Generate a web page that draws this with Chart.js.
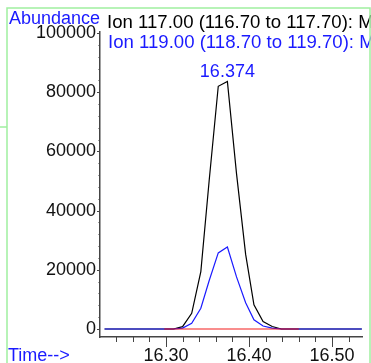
<!DOCTYPE html>
<html>
<head>
<meta charset="utf-8">
<script src="https://cdn.jsdelivr.net/npm/chart.js@4"></script>
<style>
    html, body { margin: 0; padding: 0; background: #fff; }
    #caja { position: relative; width: 371px; height: 363px; }
</style>
</head>
<body>
<div id="caja"><canvas id="grafico" width="371" height="363"></canvas></div>
<script>
// Tiempos de barrido (min)
const tiempos = [16.226, 16.234, 16.244, 16.255, 16.266, 16.277, 16.288, 16.298, 16.309, 16.320,
                 16.331, 16.342, 16.352, 16.363, 16.374, 16.385, 16.396, 16.406, 16.417, 16.428,
                 16.439, 16.450, 16.460, 16.471, 16.482, 16.493, 16.504, 16.514, 16.525, 16.536];

// Abundancias por ion
const ion117 = [0, 0, 0, 0, 0, 0, 0, 0, 0, 800,
                5300, 19400, 50000, 82000, 83600, 52500, 25200, 8200, 2500, 850,
                0, 0, 0, 0, 0, 0, 0, 0, 0, 0];
const ion119 = [0, 0, 0, 0, 0, 0, 0, 0, 0, 300,
                1900, 7000, 16300, 25700, 27700, 17600, 8900, 3100, 1000, 300,
                0, 0, 0, 0, 0, 0, 0, 0, 0, 0];
const ionRojo = [null, null, null, null, null, null, null, 0, 0, 0,
                 0, 0, 0, 0, 0, 0, 0, 0, 0, 0,
                 0, 0, 0, null, null, null, null, null, null, null];

// Textos
const titulo117 = 'Ion 117.00 (116.70 to 117.70): MSD1.D\\data.ms';
const titulo119 = 'Ion 119.00 (118.70 to 119.70): MSD1.D\\data.ms';

// Marcas de los ejes
const xTicks = [16.30, 16.40, 16.50];
const xMenores = [16.24, 16.26, 16.28, 16.30, 16.32, 16.34, 16.36, 16.38, 16.40,
                  16.42, 16.44, 16.46, 16.48, 16.50, 16.52];
const yTicks = [0, 20000, 40000, 60000, 80000, 100000];
const yMenores = [];
for (let v = 0; v <= 100000; v += 4000) yMenores.push(v);

const azul = '#1a1aff';
const fuente = '"Liberation Sans", Arial, sans-serif';

function puntos(valores) {
    return tiempos.map((t, i) => ({ x: t, y: valores[i] }));
}

// Pico principal
const iPico = ion117.indexOf(Math.max(...ion117));

const extras = {
    id: 'extras',
    beforeDraw(chart) {
        const ctx = chart.ctx;
        ctx.save();
        ctx.fillStyle = '#fff';
        ctx.fillRect(0, 0, chart.width, chart.height);
        ctx.restore();
    },
    afterDraw(chart) {
        const ctx = chart.ctx;
        const x = chart.scales.x;
        const y = chart.scales.y;
        const area = chart.chartArea;
        ctx.save();

        // marcas del eje y
        ctx.strokeStyle = '#444';
        ctx.lineWidth = 1;
        yMenores.forEach(v => {
            const py = Math.round(y.getPixelForValue(v)) + 0.5;
            const largo = yTicks.includes(v) ? 3 : 1.5;
            ctx.beginPath();
            ctx.moveTo(area.left - largo, py);
            ctx.lineTo(area.left, py);
            ctx.stroke();
        });
        // marcas del eje x
        xMenores.forEach(v => {
            const px = Math.round(x.getPixelForValue(v)) + 0.5;
            const mayor = xTicks.some(t => Math.abs(t - v) < 1e-6);
            ctx.beginPath();
            ctx.moveTo(px, area.bottom);
            ctx.lineTo(px, area.bottom + (mayor ? 10 : 5));
            ctx.stroke();
        });

        // textos
        ctx.font = '18px ' + fuente;
        ctx.textBaseline = 'alphabetic';
        ctx.textAlign = 'left';
        ctx.fillStyle = azul;
        ctx.fillText('Abundance', 9, 24);
        ctx.fillText('Time-->', 8, 361);
        ctx.font = '18.6px ' + fuente;
        ctx.fillStyle = '#000';
        ctx.fillText(titulo117, 107, 28);
        ctx.fillStyle = azul;
        ctx.fillText(titulo119, 108, 48);

        // etiqueta del pico
        ctx.font = '18px ' + fuente;
        ctx.textAlign = 'center';
        ctx.fillText(tiempos[iPico].toFixed(3), x.getPixelForValue(tiempos[iPico]), y.getPixelForValue(ion117[iPico]) - 5);

        // marco verde
        ctx.strokeStyle = '#a0f0a0';
        ctx.lineWidth = 1.5;
        ctx.beginPath();
        ctx.moveTo(7, 363);
        ctx.lineTo(7, 8);
        ctx.lineTo(370, 8);
        ctx.lineTo(370, 363);
        ctx.moveTo(0, 127);
        ctx.lineTo(7, 127);
        ctx.stroke();
        ctx.fillStyle = '#fff';
        ctx.fillRect(371, 0, 10, 363);
        ctx.restore();
    }
};

new Chart(document.getElementById('grafico').getContext('2d'), {
    type: 'line',
    data: {
        datasets: [
            {
                label: 'rojo',
                data: puntos(ionRojo),
                borderColor: 'rgba(240, 0, 0, 0.6)',
                borderWidth: 1.5,
                pointRadius: 0,
                order: 0
            },
            {
                label: 'Ion 119.00',
                data: puntos(ion119),
                borderColor: azul,
                borderWidth: 1.2,
                pointRadius: 0,
                order: 1
            },
            {
                label: 'Ion 117.00',
                data: puntos(ion117),
                borderColor: '#000',
                borderWidth: 1.2,
                pointRadius: 0,
                order: 2
            }
        ]
    },
    options: {
        responsive: false,
        animation: false,
        layout: { padding: { top: 32, right: 9, left: 0, bottom: 0 } },
        plugins: { legend: { display: false }, tooltip: { enabled: false } },
        scales: {
            x: {
                type: 'linear',
                min: 16.2205,
                max: 16.5362,
                afterBuildTicks: s => { s.ticks = xTicks.map(v => ({ value: v })); },
                afterFit: s => { s.height = 26; },
                ticks: {
                    autoSkip: false,
                    maxRotation: 0,
                    padding: 8,
                    color: '#111',
                    font: { size: 18, family: fuente },
                    callback: v => v.toFixed(2)
                },
                grid: { drawOnChartArea: false, drawTicks: false },
                border: { display: true, color: '#444', width: 1.5 }
            },
            y: {
                min: -2700,
                max: 100340,
                afterBuildTicks: s => { s.ticks = yTicks.map(v => ({ value: v })); },
                afterFit: s => { s.width = 100; },
                ticks: {
                    padding: 4,
                    color: '#111',
                    font: { size: 18, family: fuente },
                    callback: v => String(v)
                },
                grid: { drawOnChartArea: false, drawTicks: false },
                border: { display: true, color: '#444', width: 1.5 }
            }
        }
    },
    plugins: [extras]
});
</script>
</body>
</html>
